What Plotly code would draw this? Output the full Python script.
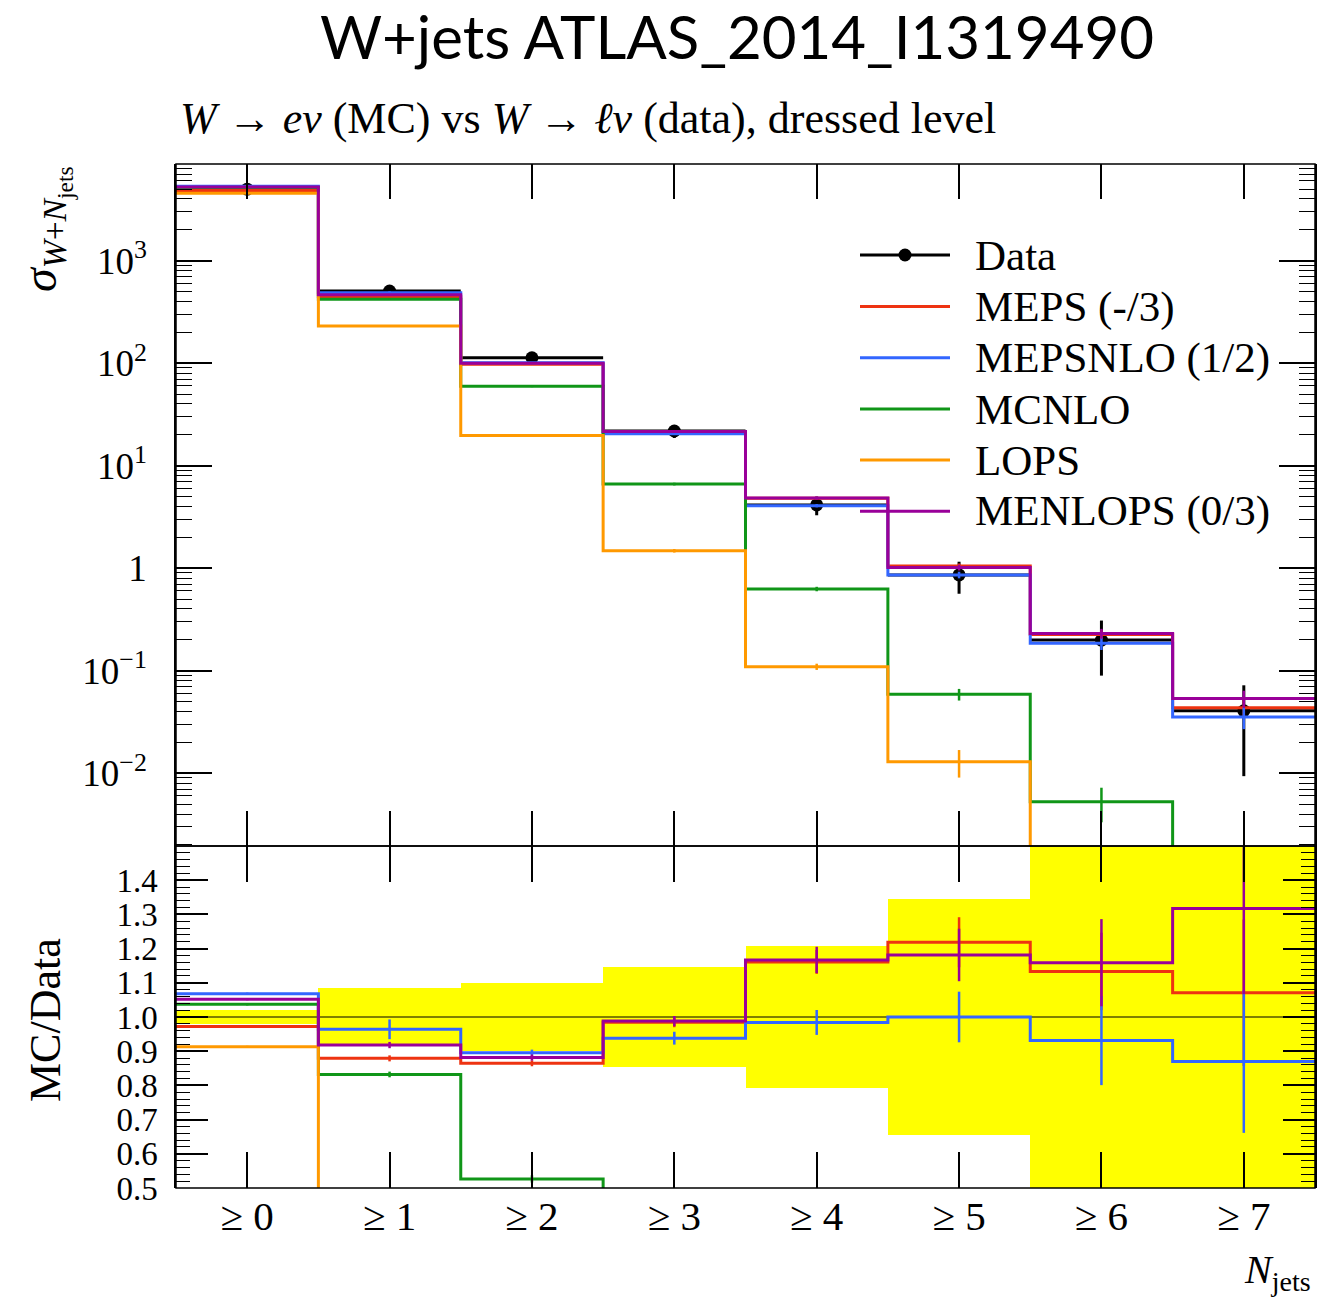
import plotly.graph_objects as go

# ---------------- data ----------------
bin_centers = [0, 1, 2, 3, 4, 5, 6, 7]
bin_edges = [-0.5, 0.5, 1.5, 2.5, 3.5, 4.5, 5.5, 6.5, 7.5]
tick_labels = ["≥ 0", "≥ 1", "≥ 2", "≥ 3", "≥ 4", "≥ 5", "≥ 6", "≥ 7"]

data_vals = [4980, 506, 113, 21.8, 4.14, 0.86, 0.199, 0.0407]
data_rel_err = [0.02, 0.085, 0.10, 0.145, 0.207, 0.345, 0.55, 0.77]

meps_vals = [4841, 444.8, 97.7, 21.47, 4.807, 1.048, 0.2255, 0.04359]
meps_err = [0.003, 0.01, 0.01, 0.015, 0.03, 0.06, 0.10, 0.20]

mepsnlo_vals = [5319, 487.8, 101.2, 20.45, 4.074, 0.860, 0.1853, 0.03541]
mepsnlo_err = [0.003, 0.03, 0.01, 0.02, 0.037, 0.074, 0.14, 0.24]

mcnlo_vals = [5164, 421, 59.5, 6.62, 0.627, 0.0588, 0.00527, 0.0004]
mcnlo_err = [0.003, 0.01, 0.02, 0.03, 0.05, 0.13, 0.37, 0.0]

lops_vals = [4547, 231, 19.7, 1.48, 0.1094, 0.01295, 0.0004, 0.0004]
lops_err = [0.003, 0.01, 0.02, 0.04, 0.07, 0.30, 0.0, 0.0]

menlops_vals = [5239, 464.5, 99.6, 21.54, 4.831, 1.016, 0.2306, 0.0536]
menlops_err = [0.003, 0.01, 0.01, 0.015, 0.033, 0.065, 0.11, 0.19]

series_names = ["MEPS (-/3)", "MEPSNLO (1/2)", "MCNLO", "LOPS", "MENLOPS (0/3)"]
series_vals = [meps_vals, mepsnlo_vals, mcnlo_vals, lops_vals, menlops_vals]
series_errs = [meps_err, mepsnlo_err, mcnlo_err, lops_err, menlops_err]
series_colors = ["#EE3311", "#3366FF", "#109618", "#FF9900", "#990099"]

main_ytick_vals = [1e-2, 1e-1, 1, 10, 100, 1000]
main_ytick_text = ["10<sup>−2</sup>", "10<sup>−1</sup>", "1", "10<sup>1</sup>",
                   "10<sup>2</sup>", "10<sup>3</sup>"]
ratio_ytick_vals = [0.5, 0.6, 0.7, 0.8, 0.9, 1.0, 1.1, 1.2, 1.3, 1.4]
ratio_ytick_text = ["0.5", "0.6", "0.7", "0.8", "0.9", "1.0", "1.1", "1.2", "1.3", "1.4"]

# ---------------- geometry helpers ----------------
W, H = 1339, 1300
ML, MR, MT, MB = 176, 24, 164, 112
PW, PH = W - ML - MR, H - MT - MB


def px_x(px):
    return (px - ML) / PW


def px_y(py):
    return (H - MB - py) / PH


split = px_y(846)
SERIF = "Liberation Serif"

fig = go.Figure()

# ---------------- main panel ----------------
fig.add_trace(go.Scatter(
    x=bin_centers, y=data_vals, mode="markers", xaxis="x", yaxis="y",
    marker=dict(color="black", size=13),
    error_x=dict(type="data", array=[c - e for c, e in zip(bin_centers, bin_edges[:-1])],
                 color="black", thickness=3, width=0),
    error_y=dict(type="data", array=[v * r for v, r in zip(data_vals, data_rel_err)],
                 color="black", thickness=3, width=0),
    showlegend=False, cliponaxis=True))

for name, vals, errs, col in zip(series_names, series_vals, series_errs, series_colors):
    fig.add_trace(go.Scatter(
        x=bin_edges, y=vals + [vals[-1]], mode="lines", line_shape="hv",
        line=dict(color=col, width=3), xaxis="x", yaxis="y", name=name, showlegend=False))
    fig.add_trace(go.Scatter(
        x=bin_centers, y=vals, mode="markers", marker=dict(size=1, opacity=0, color=col),
        error_y=dict(type="data", array=[v * e for v, e in zip(vals, errs)],
                     color=col, thickness=2.5, width=0),
        xaxis="x", yaxis="y", showlegend=False))

# ---------------- ratio panel ----------------
fig.add_trace(go.Bar(
    x=bin_centers, y=[2 * r for r in data_rel_err], base=[1 - r for r in data_rel_err],
    width=1.0, marker=dict(color="#FFFF00", line=dict(width=0)),
    xaxis="x2", yaxis="y2", showlegend=False))
fig.add_trace(go.Scatter(
    x=[bin_edges[0], bin_edges[-1]], y=[1, 1], mode="lines",
    line=dict(color="black", width=1.2), xaxis="x2", yaxis="y2", showlegend=False))

for name, vals, errs, col in zip(series_names, series_vals, series_errs, series_colors):
    ratio = [v / d for v, d in zip(vals, data_vals)]
    fig.add_trace(go.Scatter(
        x=bin_edges, y=ratio + [ratio[-1]], mode="lines", line_shape="hv",
        line=dict(color=col, width=3), xaxis="x2", yaxis="y2", showlegend=False))
    fig.add_trace(go.Scatter(
        x=bin_centers, y=ratio, mode="markers", marker=dict(size=1, opacity=0, color=col),
        error_y=dict(type="data", array=[r * e for r, e in zip(ratio, errs)],
                     color=col, thickness=2.5, width=0),
        xaxis="x2", yaxis="y2", showlegend=False))

# ---------------- axes ----------------
axis_common = dict(showgrid=False, zeroline=False, ticks="inside", tickcolor="black",
                   tickwidth=1.5, mirror="allticks")
xaxis_common = dict(axis_common, showline=False)
yaxis_common = dict(axis_common, showline=True, linewidth=1.5, linecolor="black")

minor_log = [m * 10 ** k for k in range(-3, 4) for m in range(2, 10)]

fig.update_layout(
    width=W, height=H,
    margin=dict(l=ML, r=MR, t=MT, b=MB),
    paper_bgcolor="white", plot_bgcolor="white",
    bargap=0,
    xaxis=dict(xaxis_common, domain=[0, 1], anchor="y", range=[-0.5, 7.5],
               tickvals=bin_centers, ticklen=35, showticklabels=False),
    yaxis=dict(yaxis_common, domain=[split, 1], anchor="x", type="log",
               range=[-2.710, 3.943], tickvals=main_ytick_vals, ticktext=main_ytick_text,
               ticklen=36, ticklabelstandoff=20,
               tickfont=dict(family=SERIF, size=37, color="black"),
               minor=dict(tickvals=minor_log, ticks="inside", ticklen=16,
                          tickwidth=1.2, tickcolor="black", showgrid=False)),
    xaxis2=dict(xaxis_common, domain=[0, 1], anchor="y2", range=[-0.5, 7.5],
                tickvals=bin_centers, ticktext=tick_labels, ticklen=36,
                ticklabelstandoff=0,
                tickfont=dict(family=SERIF, size=41, color="black")),
    yaxis2=dict(yaxis_common, domain=[0, split], anchor="x2", range=[0.5, 1.5],
                tickvals=ratio_ytick_vals, ticktext=ratio_ytick_text, ticklen=32,
                ticklabelstandoff=10,
                tickfont=dict(family=SERIF, size=33, color="black"),
                minor=dict(dtick=0.02, tick0=0.5, ticks="inside", ticklen=14,
                           tickwidth=1.2, tickcolor="black", showgrid=False)),
    title=dict(text="W+jets ATLAS_2014_I1319490", x=737 / W, xanchor="center",
               y=1 - 38 / H, yanchor="middle", yref="container",
               font=dict(family="Lato", size=60, color="black")),
    font=dict(family=SERIF, color="black"),
)

annotations = [
    dict(text="<i>W</i> → <i>eν</i> (MC) vs <i>W</i> → <i>ℓν</i> (data), dressed level",
         xref="paper", yref="paper", x=px_x(178), y=px_y(118), xanchor="left",
         yanchor="middle", showarrow=False, font=dict(family=SERIF, size=44, color="black")),
    dict(text="<i>σ</i><sub><i>W</i>+<i>N</i><sub>jets</sub></sub>",
         xref="paper", yref="paper", x=px_x(45), y=1.0, xanchor="center", yanchor="top",
         textangle=-90, showarrow=False, font=dict(family=SERIF, size=48, color="black")),
    dict(text="MC/Data", xref="paper", yref="paper", x=px_x(45), y=px_y(1020),
         xanchor="center", yanchor="middle", textangle=-90, showarrow=False,
         font=dict(family=SERIF, size=44, color="black")),
    dict(text="<i>N</i><sub>jets</sub>", xref="paper", yref="paper", x=px_x(1313),
         y=px_y(1245), xanchor="right", yanchor="top", showarrow=False,
         font=dict(family=SERIF, size=40, color="black")),
]

shapes = [
    # panel frames (x-axis edges)
    dict(type="rect", xref="x domain", yref="y domain", x0=0, x1=1, y0=0, y1=1,
         line=dict(color="black", width=1.5), layer="above"),
    dict(type="rect", xref="x2 domain", yref="y2 domain", x0=0, x1=1, y0=0, y1=1,
         line=dict(color="black", width=1.5), layer="above"),
]
legend_rows_px = [255, 306.5, 357.7, 409, 460, 511.3]
legend_labels = ["Data"] + series_names
legend_colors = ["black"] + series_colors
for py, lab, col in zip(legend_rows_px, legend_labels, legend_colors):
    shapes.append(dict(type="line", xref="paper", yref="paper", x0=px_x(860), x1=px_x(950),
                       y0=px_y(py), y1=px_y(py), line=dict(color=col, width=3)))
    annotations.append(dict(text=lab, xref="paper", yref="paper", x=px_x(973), y=px_y(py),
                            xanchor="left", yanchor="middle", showarrow=False,
                            font=dict(family=SERIF, size=43, color="black")))
r = 6.5
shapes.append(dict(type="circle", xref="paper", yref="paper",
                   x0=px_x(905 - r), x1=px_x(905 + r), y0=px_y(255 + r), y1=px_y(255 - r),
                   fillcolor="black", line=dict(color="black", width=0)))

fig.update_layout(annotations=annotations, shapes=shapes)

fig.write_html("out.html")
